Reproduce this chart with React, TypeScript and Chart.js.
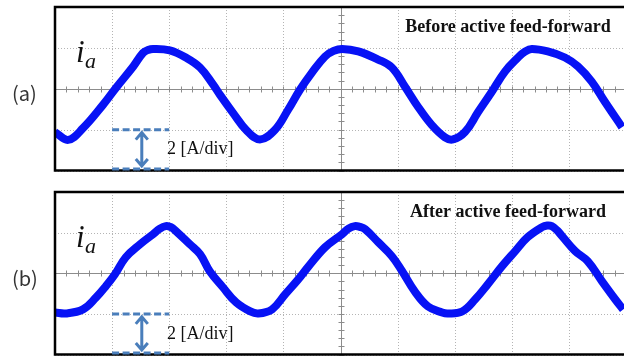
import React, { useEffect, useRef } from "react";
import { Chart, registerables } from "chart.js";

Chart.register(...registerables);

// time axis in oscilloscope divisions, current in A (2 A/div)
const xDivisions = [0, 1, 2, 3, 4, 5, 6, 7, 8, 9, 10];
const yGridValues = [-4, -2, 0, 2, 4];
const panelLabels = ["(a)", "(b)"];
const panelTitles = ["Before active feed-forward", "After active feed-forward"];
const signalName = "i";
const signalSub = "a";
const scaleText = "2 [A/div]";

const beforeX = [0, 0.23, 0.49, 0.84, 1.07, 1.37, 1.54, 1.63, 1.72, 2.01, 2.29, 2.54, 2.77, 2.89, 3.12, 3.35, 3.59, 3.85, 4.08, 4.29, 4.5, 4.73, 4.88, 5.03, 5.31, 5.66, 5.9, 6.13, 6.36, 6.6, 6.83, 6.97, 7.18, 7.41, 7.65, 7.88, 8.11, 8.23, 8.35, 8.63, 8.93, 9.16, 9.4, 9.63, 9.93];
const beforeY = [-2.12, -2.5, -1.93, -0.79, 0.05, 1.09, 1.75, 1.9, 1.95, 1.88, 1.53, 1.04, 0.2, -0.3, -1.19, -2.02, -2.48, -2.02, -1.04, -0.05, 0.79, 1.58, 1.85, 1.95, 1.83, 1.43, 1.04, 0.1, -0.89, -1.78, -2.38, -2.48, -2.12, -1.14, -0.15, 0.84, 1.53, 1.82, 1.95, 1.83, 1.53, 1.09, 0.35, -0.64, -1.88];

const afterX = [0, 0.19, 0.49, 0.72, 0.89, 1.05, 1.24, 1.49, 1.72, 1.83, 1.94, 2.03, 2.12, 2.36, 2.54, 2.71, 2.94, 3.17, 3.42, 3.56, 3.8, 4.03, 4.26, 4.43, 4.73, 5.03, 5.14, 5.25, 5.34, 5.43, 5.66, 5.9, 6.08, 6.3, 6.53, 6.78, 6.88, 7.13, 7.36, 7.58, 7.83, 8.06, 8.28, 8.53, 8.62, 8.7, 8.79, 8.88, 9.11, 9.33, 9.58, 9.81, 9.95];
const afterY = [-1.93, -1.98, -1.78, -1.19, -0.64, -0.05, 0.79, 1.43, 1.93, 2.18, 2.32, 2.27, 2.07, 1.43, 0.94, 0.1, -0.69, -1.43, -1.88, -1.98, -1.78, -1.04, -0.3, 0.3, 1.28, 1.93, 2.2, 2.32, 2.28, 2.17, 1.53, 0.84, 0.1, -0.89, -1.63, -1.93, -1.98, -1.88, -1.28, -0.54, 0.35, 1.09, 1.78, 2.27, 2.35, 2.32, 2.12, 1.83, 1.09, 0.59, -0.4, -1.28, -1.78];

const scopePlugin = (label: string, title: string) => ({
  id: "scope",
  beforeDatasetsDraw(chart: any) {
    const { ctx, chartArea: a, scales } = chart;
    const xs = scales.x;
    const ys = scales.y;
    ctx.save();
    // dotted grid
    ctx.strokeStyle = "#b4b4b4";
    ctx.lineWidth = 1;
    ctx.setLineDash([1, 2]);
    xDivisions.forEach((v) => {
      const px = Math.round(xs.getPixelForValue(v)) + 0.5;
      ctx.beginPath();
      ctx.moveTo(px, a.top);
      ctx.lineTo(px, a.bottom);
      ctx.stroke();
    });
    yGridValues.forEach((v) => {
      const py = Math.round(ys.getPixelForValue(v)) + 0.5;
      ctx.beginPath();
      ctx.moveTo(a.left, py);
      ctx.lineTo(a.right, py);
      ctx.stroke();
    });
    ctx.setLineDash([]);
    // centre axes with minor ticks
    ctx.strokeStyle = "#8c8c8c";
    const cy = Math.round(ys.getPixelForValue(0)) + 0.5;
    const cx = Math.round(xs.getPixelForValue(5)) + 0.5;
    ctx.beginPath();
    ctx.moveTo(a.left, cy);
    ctx.lineTo(a.right, cy);
    ctx.moveTo(cx, a.top);
    ctx.lineTo(cx, a.bottom);
    for (let i = 0; i <= 50; i++) {
      const px = Math.round(xs.getPixelForValue(i * 0.2)) + 0.5;
      ctx.moveTo(px, cy - 3);
      ctx.lineTo(px, cy + 3);
    }
    for (let i = 0; i <= 20; i++) {
      const py = Math.round(ys.getPixelForValue(-4 + i * 0.4)) + 0.5;
      ctx.moveTo(cx - 3, py);
      ctx.lineTo(cx + 3, py);
    }
    ctx.stroke();
    ctx.restore();
  },
  afterDatasetsDraw(chart: any) {
    const { ctx, chartArea: a, scales } = chart;
    const xs = scales.x;
    const ys = scales.y;
    ctx.save();
    // frame
    ctx.strokeStyle = "#000";
    ctx.lineWidth = 2.5;
    ctx.strokeRect(a.left, a.top, a.right - a.left, a.bottom - a.top);

    // scale indicator
    const x1 = xs.getPixelForValue(1);
    const x2 = xs.getPixelForValue(2);
    const yTop = ys.getPixelForValue(-2);
    const yBot = ys.getPixelForValue(-4) - 1.5;
    ctx.strokeStyle = "#4a7ebb";
    ctx.lineWidth = 3;
    ctx.setLineDash([7, 3.5]);
    ctx.beginPath();
    ctx.moveTo(x1, yTop);
    ctx.lineTo(x2, yTop);
    ctx.moveTo(x1, yBot);
    ctx.lineTo(x2, yBot);
    ctx.stroke();
    ctx.setLineDash([]);
    const ax = xs.getPixelForValue(1.52);
    ctx.beginPath();
    ctx.moveTo(ax, yTop + 3);
    ctx.lineTo(ax, yBot - 3);
    ctx.moveTo(ax - 6, yTop + 10);
    ctx.lineTo(ax, yTop + 3);
    ctx.lineTo(ax + 6, yTop + 10);
    ctx.moveTo(ax - 6, yBot - 10);
    ctx.lineTo(ax, yBot - 3);
    ctx.lineTo(ax + 6, yBot - 10);
    ctx.stroke();

    // texts
    ctx.fillStyle = "#111";
    ctx.textBaseline = "alphabetic";
    ctx.textAlign = "left";
    ctx.font = '18px "Liberation Serif"';
    ctx.fillText(scaleText, 167, a.top + 147);

    ctx.font = 'italic 31px "Liberation Serif"';
    ctx.fillText(signalName, 76, a.top + 55);
    ctx.font = 'italic 22px "Liberation Serif"';
    ctx.fillText(signalSub, 85, a.top + 61);

    ctx.font = 'bold 18px "Liberation Serif"';
    ctx.textAlign = "center";
    ctx.fillText(title, 508, a.top + 25);

    ctx.fillStyle = "#333";
    ctx.font = '20px "Noto Sans CJK KR"';
    ctx.textAlign = "left";
    ctx.textBaseline = "middle";
    ctx.fillText(label, 12, ys.getPixelForValue(0) + 5);
    ctx.restore();
  },
});

function ScopePanel(props: { xsData: number[]; ysData: number[]; label: string; title: string; top: number; padTop: number; padBottom: number }) {
  const ref = useRef<HTMLCanvasElement | null>(null);
  useEffect(() => {
    if (!ref.current) return;
    const chart = new Chart(ref.current, {
      type: "line",
      data: {
        datasets: [
          {
            data: props.xsData.map((x, i) => ({ x, y: props.ysData[i] })),
            borderColor: "#0712f5",
            borderWidth: 8,
            pointRadius: 0,
            tension: 0.4,
            fill: false,
          },
        ],
      },
      options: {
        animation: false,
        responsive: false,
        maintainAspectRatio: false,
        events: [],
        layout: { padding: { left: 55, right: 4, top: props.padTop, bottom: props.padBottom } },
        scales: {
          x: { type: "linear", min: 0, max: 10, display: false },
          y: { type: "linear", min: -4, max: 4, display: false },
        },
        plugins: { legend: { display: false }, tooltip: { enabled: false } },
      },
      plugins: [scopePlugin(props.label, props.title)],
    } as any);
    return () => chart.destroy();
  }, []);
  return (
    <canvas
      ref={ref}
      width={630}
      height={178}
      style={{ position: "absolute", left: 0, top: props.top, width: 630, height: 178, display: "block" }}
    />
  );
}

export default function App() {
  return (
    <div style={{ position: "absolute", left: 0, top: 0, width: 624, height: 356, overflow: "hidden", background: "#fff" }}>
      <ScopePanel xsData={beforeX} ysData={beforeY} label={panelLabels[0]} title={panelTitles[0]} top={0} padTop={7} padBottom={7.5} />
      <ScopePanel xsData={afterX} ysData={afterY} label={panelLabels[1]} title={panelTitles[1]} top={178} padTop={14} padBottom={1.5} />
    </div>
  );
}
